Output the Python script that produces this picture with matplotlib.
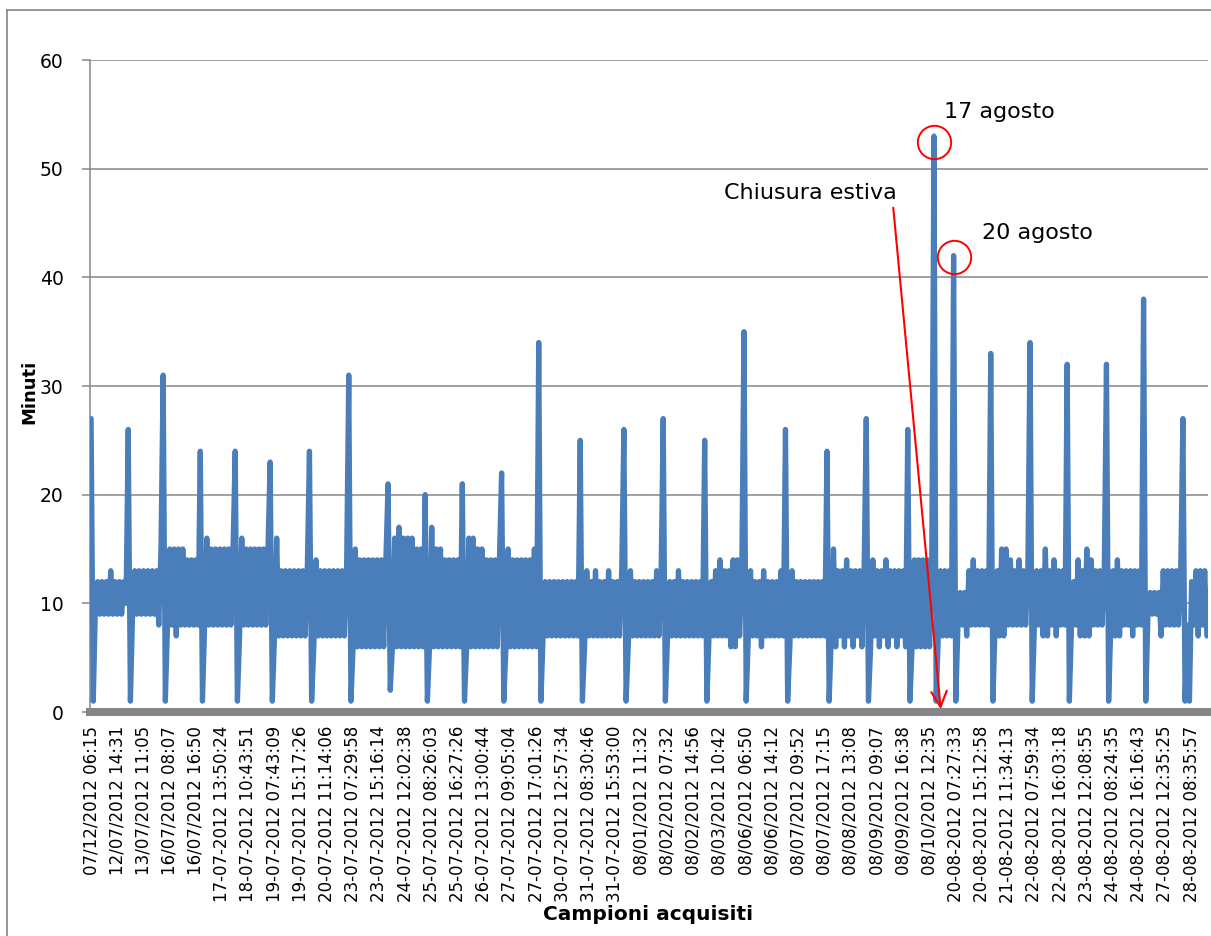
import matplotlib.pyplot as plt
from matplotlib.lines import Line2D

plt.rcParams['path.simplify'] = False

# minutes per sample, one list per working day (spike + drop at the start of each day)
daily_samples = [
    [27, 1, 10, 12, 9, 12, 9, 12, 9, 13, 9, 12, 9, 12, 9, 12, 10],
    [26, 1, 9, 13, 9, 13, 9, 13, 9, 13, 9, 13, 9, 13, 8, 15],
    [31, 1, 8, 15, 8, 15, 7, 15, 8, 15, 8, 14, 8, 14, 8, 14, 8],
    [24, 1, 8, 16, 8, 15, 8, 15, 8, 15, 8, 15, 8, 15, 8, 15],
    [24, 1, 7, 16, 8, 15, 8, 15, 8, 15, 8, 15, 8, 15, 8, 15],
    [23, 1, 7, 16, 7, 13, 7, 13, 7, 13, 7, 13, 7, 13, 7, 13, 7, 13],
    [24, 1, 6, 14, 7, 13, 7, 13, 7, 13, 7, 13, 7, 13, 7, 13, 7, 13],
    [31, 1, 6, 15, 6, 14, 6, 14, 6, 14, 6, 14, 6, 14, 6, 14, 6, 14],
    [21, 2, 6, 16, 6, 17, 6, 16, 6, 16, 6, 16, 6, 15, 6, 15, 6],
    [20, 1, 6, 17, 6, 15, 6, 15, 6, 14, 6, 14, 6, 14, 6, 14, 6],
    [21, 1, 6, 16, 6, 16, 6, 15, 6, 15, 6, 14, 6, 14, 6, 14, 6, 14],
    [22, 1, 6, 15, 6, 14, 6, 14, 6, 14, 6, 14, 6, 14, 6, 15, 6],
    [34, 1, 7, 12, 7, 12, 7, 12, 7, 12, 7, 12, 7, 12, 7, 12, 7, 12, 7],
    [25, 1, 6, 13, 7, 12, 7, 13, 7, 12, 7, 12, 7, 13, 7, 12, 7, 12, 7, 13],
    [26, 1, 6, 13, 7, 12, 7, 12, 7, 12, 7, 12, 7, 12, 7, 13, 7, 12],
    [27, 1, 7, 12, 7, 12, 7, 13, 7, 12, 7, 12, 7, 12, 7, 12, 7, 12, 7],
    [25, 1, 7, 12, 7, 13, 7, 14, 7, 13, 7, 13, 6, 14, 6, 14, 7, 13],
    [35, 1, 7, 13, 7, 12, 7, 12, 6, 13, 7, 12, 7, 12, 7, 12, 7, 13, 7],
    [26, 1, 6, 13, 7, 12, 7, 12, 7, 12, 7, 12, 7, 12, 7, 12, 7, 12, 7],
    [24, 1, 7, 15, 6, 13, 7, 13, 6, 14, 7, 13, 6, 13, 7, 13, 6, 13],
    [27, 1, 6, 14, 7, 13, 6, 13, 7, 14, 6, 13, 7, 13, 6, 13, 7, 13, 6],
    [26, 1, 6, 14, 6, 14, 6, 14, 6, 14, 6, 14],
    [53, 1, 7, 13, 7, 13, 7, 13, 7],
    [42, 1, 8, 11, 8, 11, 7, 13, 8, 14, 8, 13, 8, 13, 8, 13, 8],
    [33, 1, 8, 13, 7, 15, 7, 15, 8, 14, 8, 13, 8, 14, 8, 13, 8, 13],
    [34, 1, 8, 13, 8, 13, 7, 15, 7, 13, 8, 14, 7, 13, 8, 13, 8],
    [32, 1, 8, 12, 8, 14, 7, 13, 7, 15, 7, 14, 8, 13, 8, 13, 8, 13],
    [32, 1, 8, 13, 7, 14, 7, 13, 8, 13, 8, 13, 7, 13, 8, 13, 8],
    [38, 1, 9, 11, 9, 11, 9, 11, 7, 13, 8, 13, 8, 13, 8, 13, 8, 13],
    [27, 1, 8, 1, 12, 8, 13, 7, 13, 8, 13, 7],
]

tick_labels = [
    '07/12/2012 06:15', '12/07/2012 14:31', '13/07/2012 11:05', '16/07/2012 08:07',
    '16/07/2012 16:50', '17-07-2012 13:50:24', '18-07-2012 10:43:51', '19-07-2012 07:43:09',
    '19-07-2012 15:17:26', '20-07-2012 11:14:06', '23-07-2012 07:29:58', '23-07-2012 15:16:14',
    '24-07-2012 12:02:38', '25-07-2012 08:26:03', '25-07-2012 16:27:26', '26-07-2012 13:00:44',
    '27-07-2012 09:05:04', '27-07-2012 17:01:26', '30-07-2012 12:57:34', '31-07-2012 08:30:46',
    '31-07-2012 15:53:00', '08/01/2012 11:32', '08/02/2012 07:32', '08/02/2012 14:56',
    '08/03/2012 10:42', '08/06/2012 06:50', '08/06/2012 14:12', '08/07/2012 09:52',
    '08/07/2012 17:15', '08/08/2012 13:08', '08/09/2012 09:07', '08/09/2012 16:38',
    '08/10/2012 12:35', '20-08-2012 07:27:33', '20-08-2012 15:12:58', '21-08-2012 11:34:13',
    '22-08-2012 07:59:34', '22-08-2012 16:03:18', '23-08-2012 12:08:55', '24-08-2012 08:24:35',
    '24-08-2012 16:16:43', '27-08-2012 12:35:25', '28-08-2012 08:35:57',
]
label_step = 12

values = [v for day in daily_samples for v in day]
n = len(values)
day_start = [sum(len(d) for d in daily_samples[:i]) for i in range(len(daily_samples))]

grey = '#868686'
blue = '#4A7EBB'

fig = plt.figure(figsize=(12.11, 9.36), dpi=100)
ax = fig.add_axes([90/1211, 1-712/936, 1118/1211, 652/936])

ax.plot(range(n), values, color=blue, lw=3.8, solid_joinstyle='round',
        solid_capstyle='round', zorder=3)

ax.set_xlim(-0.5, n - 0.5)
ax.set_ylim(0, 60)
ax.set_yticks(range(0, 61, 10))
ax.yaxis.grid(True, color=grey, lw=1.1)
ax.set_axisbelow(True)
ax.set_xticks(range(0, len(tick_labels)*label_step, label_step))
ax.set_xticklabels(tick_labels, rotation=90, fontsize=12, va='top', ha='center')
ax.tick_params(axis='x', length=0, pad=10)
ax.tick_params(axis='y', length=6, width=1.1, color=grey, labelsize=13.5, pad=13)

for s in ['top', 'right']:
    ax.spines[s].set_visible(False)
ax.spines['left'].set_color(grey)
ax.spines['left'].set_linewidth(1.1)
ax.spines['bottom'].set_color(grey)
ax.spines['bottom'].set_linewidth(5.8)
ax.spines['bottom'].set_zorder(2)

ax.set_ylabel('Minuti', fontsize=13, fontweight='bold')
ax.yaxis.set_label_coords(-52/1118, 320/652)
fig.text(648/1211, 1-915/936, 'Campioni acquisiti', fontsize=14.5, fontweight='bold',
         ha='center', va='center')

# annotations
px = n / 1118.0
def xi(x):
    return (x - 90) * px - 0.5
def yv(y):
    return (712 - y) / (652 / 60.0)

i17 = day_start[22]
i20 = day_start[23]
ax.plot([i17, i20], [values[i17] - 0.5, values[i20] - 0.1], 'o', ms=24, mfc='none',
        mec='red', mew=1.4, zorder=4)
ax.text(xi(944), yv(112), '17 agosto', fontsize=16, va='center', ha='left')
ax.text(xi(982), yv(233), '20 agosto', fontsize=16, va='center', ha='left')
ax.text(xi(724), yv(193), 'Chiusura estiva', fontsize=16, va='center', ha='left')
ax.annotate('', xy=(xi(941), 0), xytext=(xi(893), yv(205)),
            arrowprops=dict(arrowstyle='->', color='red', lw=1.5, mutation_scale=28),
            zorder=5, annotation_clip=False)

# chart area border
fig.add_artist(Line2D([7/1211, 7/1211], [0, 1-10/936], color=grey, lw=1.2))
fig.add_artist(Line2D([7/1211, 1], [1-10/936, 1-10/936], color=grey, lw=1.2))

plt.savefig('out.png', dpi=100)
